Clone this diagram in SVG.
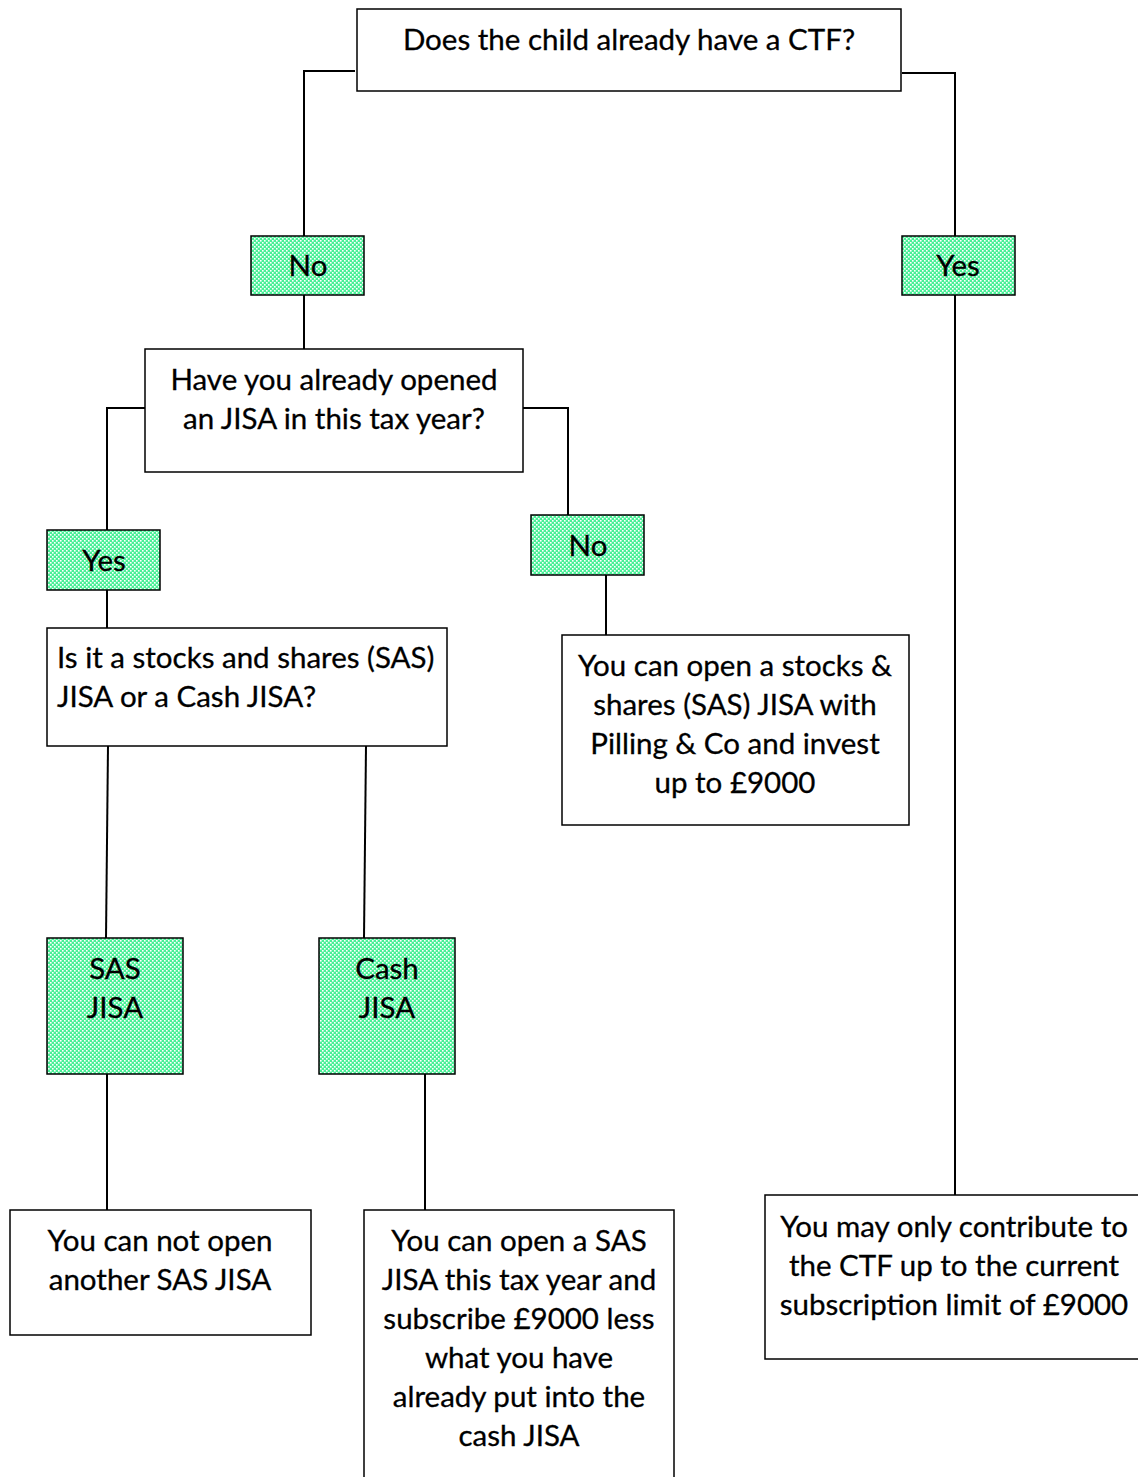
<svg xmlns="http://www.w3.org/2000/svg" width="1138" height="1477" viewBox="0 0 1138 1477">
<style>
.box{fill:#fff;stroke:#000;stroke-width:1.5}
.g{fill:url(#dots);stroke:#000;stroke-width:1.5}
.t{font-family:Lato,"Liberation Sans",sans-serif;font-size:29.5px;fill:#000;text-anchor:middle;stroke:#000;stroke-width:0.3}
.l{text-anchor:start}
.c{fill:none;stroke:#000;stroke-width:2}
</style>
<defs>
<pattern id="dots" width="4" height="4" patternUnits="userSpaceOnUse">
<rect width="4" height="4" fill="#48f096"/>
<rect x="0" y="0" width="1.6" height="1.6" fill="#fff"/>
<rect x="2" y="2" width="1.6" height="1.6" fill="#fff"/>
</pattern>
</defs>
<rect width="1138" height="1477" fill="#fff"/>
<g id="connectors">
<polyline class="c" points="355,71 304,71 304,236"/>
<polyline class="c" points="902,73 955,73 955,236"/>
<line class="c" x1="304" y1="295" x2="304" y2="349"/>
<polyline class="c" points="145,408 107,408 107,530"/>
<polyline class="c" points="523,408 568,408 568,515"/>
<line class="c" x1="107" y1="590" x2="107" y2="628"/>
<line class="c" x1="606" y1="575" x2="606" y2="635"/>
<line class="c" x1="108" y1="746" x2="106" y2="938"/>
<line class="c" x1="366" y1="746" x2="364" y2="938"/>
<line class="c" x1="107" y1="1074" x2="107" y2="1210"/>
<line class="c" x1="425" y1="1074" x2="425" y2="1210"/>
<line class="c" x1="955" y1="295" x2="955" y2="1195"/>
</g>
<g id="q1">
<rect class="box" x="357" y="9" width="544" height="82"/>
<text class="t" x="629" y="50">Does the child already have a CTF?</text>
</g>
<g id="no1">
<rect class="g" x="251" y="236" width="113" height="59"/>
<text class="t" x="308" y="276">No</text>
</g>
<g id="yes1">
<rect class="g" x="902" y="236" width="113" height="59"/>
<text class="t" x="958" y="276">Yes</text>
</g>
<g id="q2">
<rect class="box" x="145" y="349" width="378" height="123"/>
<text class="t" x="334" y="390">Have you already opened</text>
<text class="t" x="334" y="429">an JISA in this tax year?</text>
</g>
<g id="yes2">
<rect class="g" x="47" y="530" width="113" height="60"/>
<text class="t" x="104" y="571">Yes</text>
</g>
<g id="no2">
<rect class="g" x="531" y="515" width="113" height="60"/>
<text class="t" x="588" y="556">No</text>
</g>
<g id="q3">
<rect class="box" x="47" y="628" width="400" height="118"/>
<text class="t l" x="57" y="668">Is it a stocks and shares (SAS)</text>
<text class="t l" x="57" y="707">JISA or a Cash JISA?</text>
</g>
<g id="a1">
<rect class="box" x="562" y="635" width="347" height="190"/>
<text class="t" x="735" y="676">You can open a stocks &amp;</text>
<text class="t" x="735" y="715">shares (SAS) JISA with</text>
<text class="t" x="735" y="754">Pilling &amp; Co and invest</text>
<text class="t" x="735" y="793">up to £9000</text>
</g>
<g id="sas">
<rect class="g" x="47" y="938" width="136" height="136"/>
<text class="t" x="115" y="979">SAS</text>
<text class="t" x="115" y="1018">JISA</text>
</g>
<g id="cash">
<rect class="g" x="319" y="938" width="136" height="136"/>
<text class="t" x="387" y="979">Cash</text>
<text class="t" x="387" y="1018">JISA</text>
</g>
<g id="a2">
<rect class="box" x="10" y="1210" width="301" height="125"/>
<text class="t" x="160" y="1251">You can not open</text>
<text class="t" x="160" y="1290">another SAS JISA</text>
</g>
<g id="a3">
<rect class="box" x="364" y="1210" width="310" height="280"/>
<text class="t" x="519" y="1251">You can open a SAS</text>
<text class="t" x="519" y="1290">JISA this tax year and</text>
<text class="t" x="519" y="1329">subscribe £9000 less</text>
<text class="t" x="519" y="1368">what you have</text>
<text class="t" x="519" y="1407">already put into the</text>
<text class="t" x="519" y="1446">cash JISA</text>
</g>
<g id="a4">
<rect class="box" x="765" y="1195" width="390" height="164"/>
<text class="t" x="954" y="1237">You may only contribute to</text>
<text class="t" x="954" y="1276">the CTF up to the current</text>
<text class="t" x="954" y="1315">subscription limit of £9000</text>
</g>
</svg>
